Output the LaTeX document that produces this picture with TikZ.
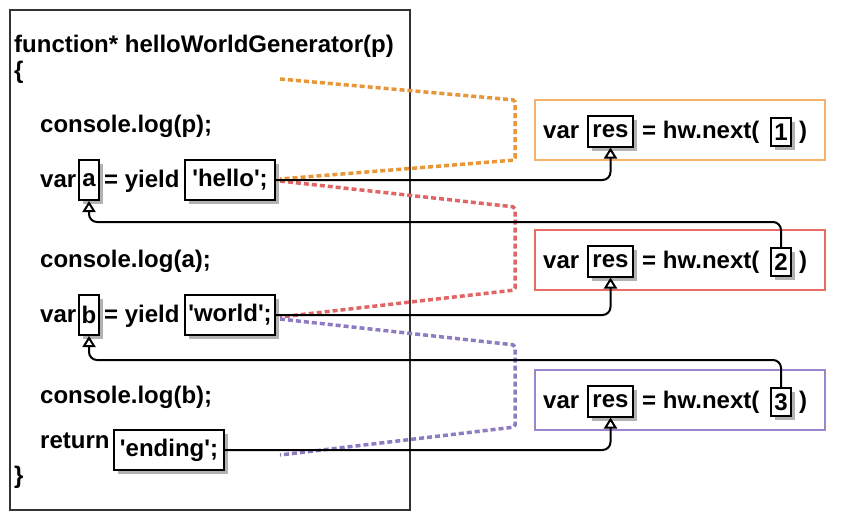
\documentclass[tikz,border=0pt]{standalone}
\usepackage{fontspec}
\setmainfont{Liberation Sans}
\usetikzlibrary{arrows.meta,shadows}

\definecolor{orangeline}{HTML}{E8963A}
\definecolor{orangebox}{HTML}{F4B26A}
\definecolor{redline}{HTML}{E06666}
\definecolor{redbox}{HTML}{EA6B66}
\definecolor{purpleline}{HTML}{8E7CC3}
\definecolor{purplebox}{HTML}{9A86CC}
\newcommand{\q}{\textquotesingle}

\begin{document}
\begin{tikzpicture}[x=1pt,y=-1pt,
  every node/.style={font=\fontsize{24}{28}\selectfont\bfseries},
  code/.style={anchor=base west,inner sep=0pt},
  slot/.style={draw,line width=2pt,fill=white,inner sep=0pt,minimum height=40pt,
    drop shadow={shadow xshift=4pt,shadow yshift=-4pt,fill=black!30,opacity=1}},
  link/.style={-{Triangle[open,length=11pt,width=13pt,line width=2pt]},line width=2pt,rounded corners=8pt},
  stretch/.style={line width=3.5pt,dash pattern=on 5pt off 3pt,rounded corners=2pt},
  call/.style={draw=#1,line width=1.8pt,minimum width=290pt,minimum height=60pt,inner sep=0pt}]
\useasboundingbox (0,0) rectangle (845,530);
\draw[line width=2pt,draw=black!80] (10,10) rectangle (410,510);

% generator body
\node[code] (func) at (14,52) {function* helloWorldGenerator(p)};
\node[code] (lbrace) at (14,78) {\{};
\node[code] (logp) at (40,132) {console.log(p);};
\node[code] (vara) at (40,187) {var};
\node[slot,minimum width=20pt] (a) at (89,180) {a};
\node[code] (yielda) at (104,187) {= yield};
\node[slot,minimum width=90pt] (hello) at (230,180) {\q hello\q;};
\node[code] (loga) at (40,267) {console.log(a);};
\node[code] (varb) at (40,322) {var};
\node[slot,minimum width=20pt] (b) at (89,315) {b};
\node[code] (yieldb) at (104,322) {= yield};
\node[slot,minimum width=90pt] (world) at (230,315) {\q world\q;};
\node[code] (logb) at (40,403) {console.log(b);};
\node[code] (ret) at (40,448) {return};
\node[slot,minimum width=110pt] (ending) at (169,450) {\q ending\q;};
\node[code] (rbrace) at (14,483) {\}};

% ranges
\draw[stretch,orangeline] (280,79) -- (515,100) -- (515,160) -- (280,179);
\draw[stretch,redline] (280,181) -- (515,207) -- (515,290) -- (280,317);
\draw[stretch,purpleline] (280,319) -- (515,345) -- (515,427) -- (280,455);

% calls
\node[call=orangebox] (call1) at (680,130) {};
\node[code] (var1) at (543,138) {var};
\node[slot,minimum width=45pt,minimum height=31pt] (res1) at (610.5,131) {res};
\node[code] (next1) at (642,138) {= hw.next(};
\node[slot,minimum width=20pt,minimum height=28pt] (n1) at (781,132) {1};
\node[code] (close1) at (799,138) {)};

\node[call=redbox] (call2) at (680,260) {};
\node[code] (var2) at (543,268) {var};
\node[slot,minimum width=45pt,minimum height=31pt] (res2) at (610.5,261) {res};
\node[code] (next2) at (642,268) {= hw.next(};
\node[slot,minimum width=20pt,minimum height=28pt] (n2) at (781,262) {2};
\node[code] (close2) at (799,268) {)};

\node[call=purplebox] (call3) at (680,400) {};
\node[code] (var3) at (543,408) {var};
\node[slot,minimum width=45pt,minimum height=31pt] (res3) at (610.5,401) {res};
\node[code] (next3) at (642,408) {= hw.next(};
\node[slot,minimum width=20pt,minimum height=28pt] (n3) at (781,402) {3};
\node[code] (close3) at (799,408) {)};

% flow
\coordinate (back1) at (781,222);
\coordinate (back2) at (781,360);
\draw[link] (hello.east) -| (res1.south);
\draw[link] (n2.north) -- (back1) -| (a.south);
\draw[link] (world.east) -| (res2.south);
\draw[link] (n3.north) -- (back2) -| (b.south);
\draw[link] (ending.east) -| (res3.south);
\end{tikzpicture}
\end{document}
